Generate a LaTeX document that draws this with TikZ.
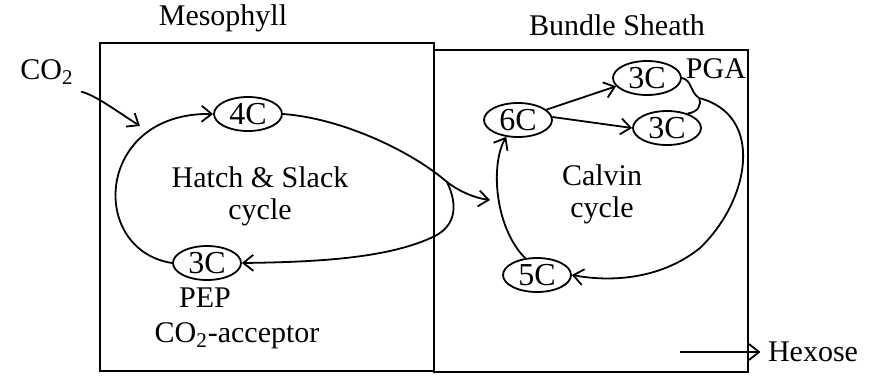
\documentclass[tikz,border=0pt]{standalone}
\usepackage{fontspec}
\setmainfont{Liberation Serif}
\usetikzlibrary{shapes.geometric,arrows.meta,positioning}

\begin{document}
\begin{tikzpicture}[
    x=0.5pt, y=-0.5pt,
    line width=0.9pt,
    arr/.style={-{Straight Barb[length=5pt,width=8pt]}},
    lbl/.style={font=\fontsize{15}{16}\selectfont, align=center},
    carbon/.style={ellipse, draw, minimum width=34pt,
                   minimum height=17pt, inner sep=0pt,
                   font=\fontsize{16}{17}\selectfont},
]
\useasboundingbox (0,0) rectangle (873,376);

% Cells
\draw (100,43) rectangle (434,371);
\draw (434,50) rectangle (748,372);
\node[lbl] (meso) at (223,18) {Mesophyll};
\node[lbl] (bsheath) at (617,25) {Bundle Sheath};

% Hatch & Slack cycle
\node[carbon] (c4) at (248,114) {4C};
\node[carbon] (pep) at (207,263) {3C};
\node[lbl] (hscycle) at (260,196) {Hatch \& Slack\\cycle};
\node[lbl] (peplbl) at (205,298) {PEP};
\node[lbl] (acceptor) at (237,336) {CO\textsubscript{2}-acceptor};

\node[lbl] (co2) at (47,72) {CO\textsubscript{2}};
\coordinate (co2in) at (140,126);
\draw[arr] (co2.south east) .. controls (95,95) and (115,110) .. (co2in);

\draw[arr] (pep.west) .. controls (88,250) and (95,112) .. (c4.west);

\coordinate (split) at (447,182);
\coordinate (entry) at (490,200);
\draw (c4.east) .. controls (340,118) and (410,150) .. (split);
\draw[arr] (split) .. controls (460,192) and (475,198) .. (entry);
\draw[arr] (split) .. controls (458,205) and (456,225) .. (435,236)
    .. controls (390,258) and (320,262) .. (pep.east);

% Calvin cycle
\node[carbon] (c6) at (518,120) {6C};
\node[carbon] (pga1) at (647,78) {3C};
\node[carbon] (pga2) at (667,128) {3C};
\node[carbon] (c5) at (537,275) {5C};
\node[lbl] (pgalbl) at (716,69) {PGA};
\node[lbl] (calvin) at (602,194) {Calvin\\cycle};

\draw[arr] (c6.20) -- (pga1.195);
\draw[arr] (c6.5) -- (pga2.west);

\coordinate (pgaj) at (699,98);
\draw (pga1.east) .. controls (692,80) and (690,92) .. (pgaj)
    .. controls (702,105) and (698,112) .. (pga2.35);
\draw[arr] (pgaj) .. controls (765,115) and (750,200) .. (700,248)
    .. controls (660,280) and (610,282) .. (c5.east);

\draw[arr] (c5.125) .. controls (495,228) and (490,165) .. (c6.235);

% Hexose
\node[lbl] (hexose) at (813,352) {Hexose};
\coordinate (hexsrc) at (680,352);
\draw[arr] (hexsrc) -- (hexose.west);

\end{tikzpicture}
\end{document}
